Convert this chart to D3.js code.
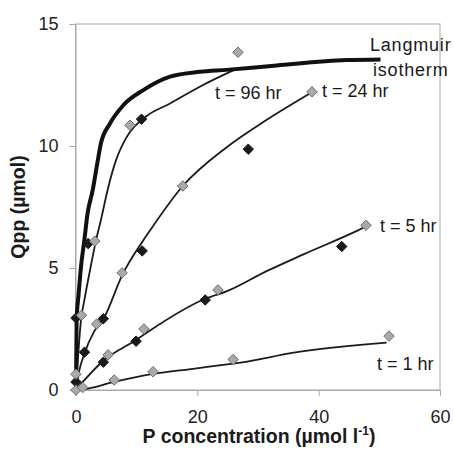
<!DOCTYPE html>
<html>
<head>
<meta charset="utf-8">
<script src="https://cdn.jsdelivr.net/npm/d3@7"></script>
<style>
  body { margin: 0; background: #fff; }
  svg { display: block; font-family: Arial, 'Liberation Sans', sans-serif; }
  .tick-label { font-size: 18px; fill: #222; }
  .series-label { font-size: 18px; fill: #1a1a1a; }
  .axis-title { font-size: 19.5px; font-weight: bold; fill: #1a1a1a; }
</style>
</head>
<body>
<div id="chart"></div>
<script>
// tick values
var xTicks = [0, 20, 40, 60]
var yTicks = [0, 5, 10, 15]

// fitted lines [P concentration, Qpp]
var langmuirLine = [[0, 0], [0.1, 2.85], [0.44, 3.95], [0.82, 5.04], [1.37, 6.13], [1.9, 7.23], [2.75, 8.19], [3.6, 9.42], [4.1, 10.1], [5.6, 10.92], [7.8, 11.67], [11.1, 12.29], [15.5, 12.84], [20.4, 13.04], [24.8, 13.12], [33.1, 13.3], [44.6, 13.52], [50.2, 13.55]]
var hr96Line = [[0, 0], [0.3, 1.2], [0.82, 2.85], [1.37, 3.67], [2.2, 4.77], [3.3, 6.13], [4.1, 6.96], [5.2, 8.19], [6.6, 9.42], [8.2, 10.3], [11.6, 11.22], [15.5, 11.74], [20.4, 12.43], [26.8, 13.2]]
var hr24Line = [[0, 0], [0.5, 0.75], [1.4, 1.5], [3.0, 2.4], [4.6, 2.95], [7.6, 4.7], [11, 6.1], [12.2, 6.54], [17.6, 8.36], [24.9, 9.96], [31, 11.0], [38.9, 12.2]]
var hr5Line = [[0, 0], [1.2, 0.35], [4.5, 1.2], [9.9, 2.05], [12.2, 2.44], [21.3, 3.74], [24.9, 4.05], [31.5, 4.88], [37.5, 5.56], [46.3, 6.52], [47.8, 6.7]]
var hr1Line = [[0, 0], [1.8, 0.05], [6.1, 0.32], [12.7, 0.66], [19.3, 0.87], [24.9, 1.05], [27.1, 1.12], [35.9, 1.53], [51.2, 1.94]]

// measured points [P concentration, Qpp]
var blackPoints = [[0, 2.95], [2.0, 6.0], [10.8, 11.1], [1.4, 1.55], [4.5, 2.92], [10.9, 5.7], [28.4, 9.87], [4.5, 1.14], [9.9, 2.0], [21.3, 3.69], [43.8, 5.88], [0, 0.33]]
var grayPoints = [[0.9, 3.06], [3.1, 6.1], [8.9, 10.85], [26.7, 13.84], [3.4, 2.7], [7.6, 4.8], [17.6, 8.36], [38.9, 12.22], [5.3, 1.44], [11.2, 2.5], [23.4, 4.1], [47.8, 6.75], [0, 0.65], [0, 0], [1.1, 0.1], [6.3, 0.41], [12.7, 0.75], [25.9, 1.25], [51.6, 2.21]]

var seriesLabels = ['Langmuir', 'isotherm', 't = 96 hr', 't = 24 hr', 't = 5 hr', 't = 1 hr']

var width = 454, height = 458
var margin = { top: 24, right: 14, bottom: 68, left: 75.5 }
var plotW = width - margin.left - margin.right
var plotH = height - margin.top - margin.bottom

var svg = d3.select('#chart')
  .append('svg')
  .attr('width', width)
  .attr('height', height)

var g = svg.append('g')
  .attr('transform', 'translate(' + margin.left + ',' + margin.top + ')')

var x = d3.scaleLinear().domain([0, 60]).range([0.5, plotW])
var y = d3.scaleLinear().domain([0, 15]).range([plotH, 0])

// plot frame
g.append('rect')
  .attr('x', 0)
  .attr('y', 0)
  .attr('width', plotW)
  .attr('height', plotH)
  .attr('fill', 'none')
  .attr('stroke', '#a8a8a8')
  .attr('stroke-width', 1)

var xAxis = d3.axisBottom(x).tickValues(xTicks).tickSizeInner(6).tickSizeOuter(0).tickPadding(14)
var yAxis = d3.axisLeft(y).tickValues(yTicks).tickSizeInner(6).tickSizeOuter(0).tickPadding(11)

var gx = g.append('g')
  .attr('transform', 'translate(0,' + plotH + ')')
  .call(xAxis)
var gy = g.append('g').call(yAxis)

;[gx, gy].forEach(function (ax) {
  ax.select('.domain').attr('stroke', '#a8a8a8')
  ax.selectAll('.tick line').attr('stroke', '#a8a8a8')
  ax.selectAll('.tick text')
    .attr('class', 'tick-label')
    .attr('font-family', null)
    .attr('font-size', null)
    .attr('fill', null)
})

var line = d3.line()
  .x(function (d) { return x(d[0]) })
  .y(function (d) { return y(d[1]) })
  .curve(d3.curveMonotoneX)

var thinLines = [hr96Line, hr24Line, hr5Line, hr1Line]
thinLines.forEach(function (data) {
  g.append('path')
    .datum(data)
    .attr('d', line)
    .attr('fill', 'none')
    .attr('stroke', '#1a1a1a')
    .attr('stroke-width', 1.8)
})

g.append('path')
  .datum(langmuirLine)
  .attr('d', line)
  .attr('fill', 'none')
  .attr('stroke', '#111')
  .attr('stroke-width', 4)

var diamond = d3.symbol().type(d3.symbolDiamond2).size(70)

g.selectAll('.black-pt')
  .data(blackPoints)
  .enter()
  .append('path')
  .attr('class', 'black-pt')
  .attr('d', diamond)
  .attr('transform', function (d) { return 'translate(' + x(d[0]) + ',' + y(d[1]) + ')' })
  .attr('fill', '#1a1a1a')
  .attr('stroke', '#1a1a1a')
  .attr('stroke-width', 1)

g.selectAll('.gray-pt')
  .data(grayPoints)
  .enter()
  .append('path')
  .attr('class', 'gray-pt')
  .attr('d', diamond)
  .attr('transform', function (d) { return 'translate(' + x(d[0]) + ',' + y(d[1]) + ')' })
  .attr('fill', '#a9a9a9')
  .attr('stroke', '#6e6e6e')
  .attr('stroke-width', 1)

// series labels
var labelPos = [[370, 51], [373, 76], [215, 99], [322, 97], [380, 232], [377, 370]]
seriesLabels.forEach(function (t, i) {
  svg.append('text')
    .attr('class', 'series-label')
    .attr('x', labelPos[i][0])
    .attr('y', labelPos[i][1])
    .attr('letter-spacing', i < 2 ? 0.8 : 0)
    .text(t)
})

// axis titles
var xt = svg.append('text')
  .attr('class', 'axis-title')
  .attr('x', 259)
  .attr('y', 443)
  .attr('text-anchor', 'middle')
xt.append('tspan').text('P concentration (µmol l')
xt.append('tspan').attr('dy', -8).style('font-size', '12px').text('-1')
xt.append('tspan').attr('dy', 8).text(')')

svg.append('text')
  .attr('class', 'axis-title')
  .attr('transform', 'translate(25,207) rotate(-90)')
  .attr('text-anchor', 'middle')
  .text('Qpp (µmol)')
</script>
</body>
</html>
